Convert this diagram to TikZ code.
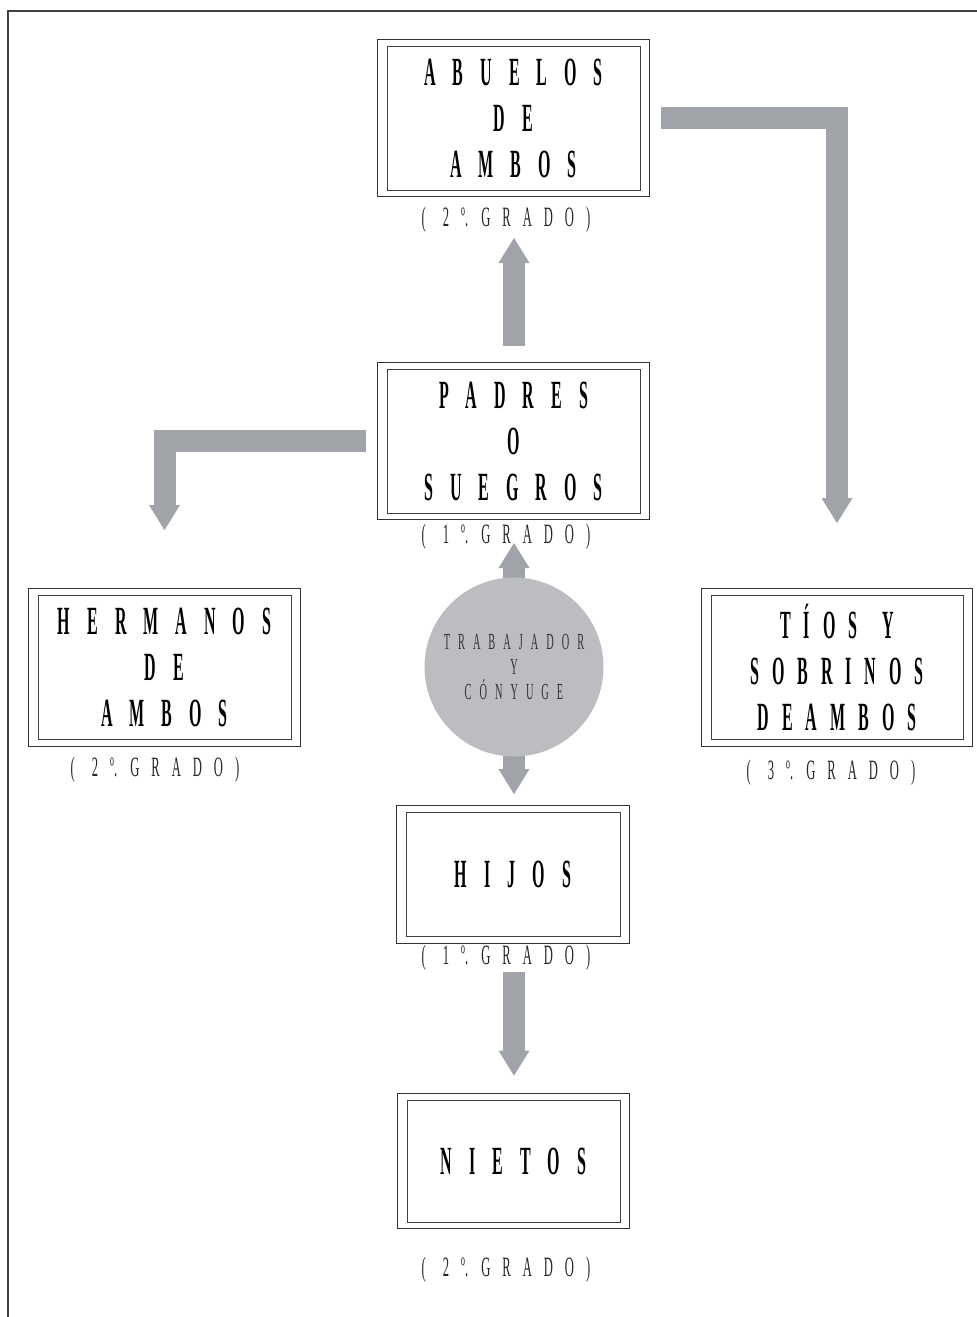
\documentclass[tikz,border=0pt]{standalone}
\usepackage{fontspec}
\setmainfont{Liberation Serif}
\newfontfamily\boxfont[FakeStretch=0.4]{Liberation Serif}
\newfontfamily\gradefont[FakeStretch=0.45]{Liberation Serif}
\usetikzlibrary{positioning,arrows.meta,calc}
\definecolor{arrowgray}{RGB}{160,163,168}
\definecolor{circgray}{RGB}{187,189,192}
\newcommand\kinfont{\boxfont\bfseries\fontsize{40}{46}\selectfont}
\newcommand\gradesize{\gradefont\fontsize{28}{30}\selectfont}

\begin{document}
\begin{tikzpicture}[
    x=1pt, y=1pt,
    kin/.style={draw=black!75, line width=0.8pt, rectangle, inner sep=0pt, align=center, minimum width=253pt, minimum height=144pt, font={\kinfont\spaceskip=17pt\relax}},
    outline/.style={draw=black!80, line width=0.9pt},
    grade/.style={inner sep=0pt, text=black!85, font={\gradesize\spaceskip=12pt\relax}},
    fat/.style={draw=arrowgray, line width=22pt, line join=miter, -{Triangle[width=31pt 0, length=25pt 0, line width=0pt]}}
]
\useasboundingbox (0,0) rectangle (977,-1317);

% Frame
\draw[line width=1.4pt, black!75] (977,-11) -- (8,-11) -- (8,-1317);

% Relatives
\node[kin] (ab) at (513.5,-118) {A B U E L O S\\D E\\A M B O S};
\node[kin] (pa) at (513.5,-441) {P A D R E S\\O\\S U E G R O S};
\node[kin] (he) at (164.5,-667.5) {H E R M A N O S\\D E\\A M B O S};
\node[kin, minimum width=252pt, font={\kinfont\spaceskip=13pt\relax}] (ti) at (837,-667.5) {T Í O S\hspace{12pt} Y\\S O B R I N O S\\D E A M B O S};
\node[kin, minimum width=214pt, minimum height=124pt] (hi) at (513,-874.5) {H I J O S};
\node[kin, minimum width=213pt, minimum height=122pt] (ni) at (513.5,-1161) {N I E T O S};

% Outer frames
\foreach \n in {ab,pa,he,ti,hi,ni}
  \draw[outline] ([xshift=-9pt,yshift=-6.5pt]\n.south west) rectangle ([xshift=9pt,yshift=6.5pt]\n.north east);

% Degrees
\node[grade] (abcap) at (506,-220) {(\hspace{5pt} 2 º. G R A D O )};
\node[grade] (pacap) at (506,-537) {(\hspace{5pt} 1 º. G R A D O )};
\node[grade] (hecap) at (155,-770) {(\hspace{5pt} 2 º. G R A D O )};
\node[grade] (ticap) at (831,-773) {(\hspace{5pt} 3 º. G R A D O )};
\node[grade] (hicap) at (506,-958) {(\hspace{5pt} 1 º. G R A D O )};
\node[grade] (nicap) at (506,-1270) {(\hspace{5pt} 2 º. G R A D O )};

% Arrows
\coordinate (tc0) at (514,-667);
\draw[fat] ([yshift=23pt]pa.north -| tc0) -- ([yshift=-18pt]tc0 |- abcap.center);
\draw[fat] ([xshift=21pt]ab.east) -| ([yshift=72pt]ti.north);
\draw[fat] ([xshift=-21pt]pa.west) -| ([yshift=65pt]he.north);
\draw[fat] (tc0) -- ([yshift=-6pt]tc0 |- pacap.center);
\draw[fat] (tc0) -- ([yshift=18pt]hi.north -| tc0);
\draw[fat] ([yshift=-14pt]tc0 |- hicap.center) -- ([yshift=24pt]ni.north -| tc0);

% Worker and spouse
\node[circle, fill=circgray, minimum size=179pt, inner sep=0pt, align=center, text=black!80,
      font={\gradefont\fontsize{23}{25}\selectfont\spaceskip=8pt\relax}] (tc) at (tc0)
      {T R A B A J A D O R\\Y\\C Ó N Y U G E};

\end{tikzpicture}
\end{document}
